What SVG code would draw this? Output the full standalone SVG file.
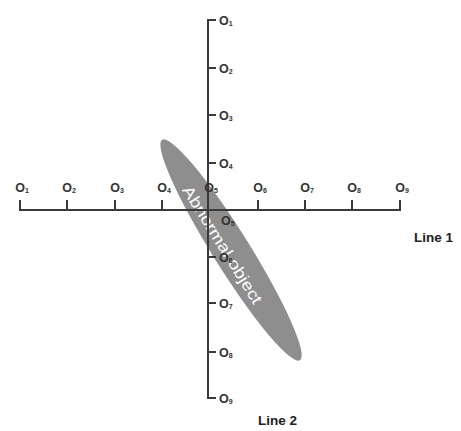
<svg xmlns="http://www.w3.org/2000/svg" width="461" height="431" viewBox="0 0 461 431">
<style>
.ax{stroke:#3a3a3a;stroke-width:2;fill:none}
.lb{font-family:"Liberation Sans",Arial,sans-serif;font-size:12.5px;font-weight:bold;fill:#333}
.sb{font-size:7px}
.ln{font-family:"Liberation Sans",Arial,sans-serif;font-size:13.5px;font-weight:bold;fill:#222}
</style>
<rect width="461" height="431" fill="#fff"/>
<g id="abnormal-object">
<ellipse cx="231" cy="250" rx="130" ry="18.5" fill="#8e8e8e" transform="rotate(58 231 250)"/>
<text x="222" y="250" transform="rotate(58 222 245)" text-anchor="middle" font-family="Liberation Sans,Arial,sans-serif" font-size="16" textLength="136" lengthAdjust="spacingAndGlyphs" fill="#fff">Abnormal object</text>
</g>
<g id="connectors">
<path class="ax" d="M20 200V210H400V200M67 200V210M115 200V210M162 200V210M258 200V210M305 200V210M352 200V210"/>
<path class="ax" d="M216 20H208V398H216M208 68H216M208 115H216M208 163H216M208 257H216M208 303H216M208 352H216"/>
</g>
<g id="line1-labels" class="lb" text-anchor="middle">
<text x="22" y="192">O<tspan class="sb" dy="1">1</tspan></text>
<text x="69" y="192">O<tspan class="sb" dy="1">2</tspan></text>
<text x="117" y="192">O<tspan class="sb" dy="1">3</tspan></text>
<text x="164" y="192">O<tspan class="sb" dy="1">4</tspan></text>
<text x="211" y="192">O<tspan class="sb" dy="1">5</tspan></text>
<text x="260" y="192">O<tspan class="sb" dy="1">6</tspan></text>
<text x="307" y="192">O<tspan class="sb" dy="1">7</tspan></text>
<text x="354" y="192">O<tspan class="sb" dy="1">8</tspan></text>
<text x="402" y="192">O<tspan class="sb" dy="1">9</tspan></text>
</g>
<g id="line2-labels" class="lb">
<text x="219" y="25">O<tspan class="sb" dy="1">1</tspan></text>
<text x="219" y="73">O<tspan class="sb" dy="1">2</tspan></text>
<text x="219" y="120">O<tspan class="sb" dy="1">3</tspan></text>
<text x="219" y="168">O<tspan class="sb" dy="1">4</tspan></text>
<text x="221" y="225">O<tspan class="sb" dy="1">5</tspan></text>
<text x="219" y="262">O<tspan class="sb" dy="1">6</tspan></text>
<text x="219" y="308">O<tspan class="sb" dy="1">7</tspan></text>
<text x="219" y="357">O<tspan class="sb" dy="1">8</tspan></text>
<text x="219" y="403">O<tspan class="sb" dy="1">9</tspan></text>
</g>
<g id="line1"><text class="ln" x="414" y="242">Line 1</text></g>
<g id="line2"><text class="ln" x="258" y="425">Line 2</text></g>
</svg>
